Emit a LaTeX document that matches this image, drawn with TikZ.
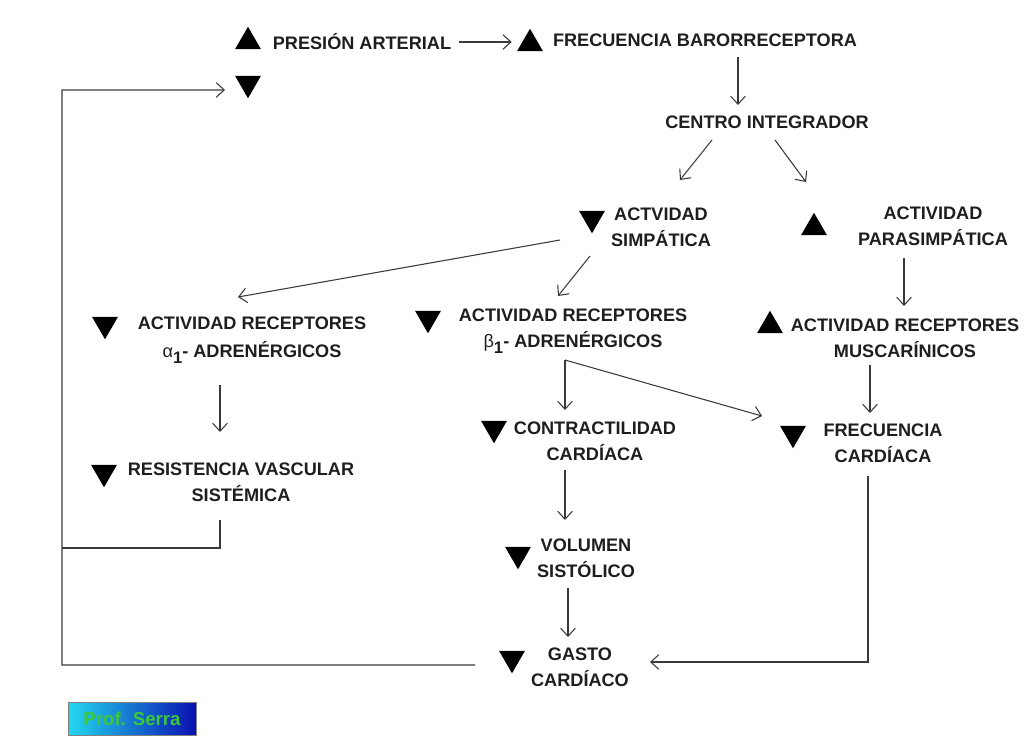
\documentclass[tikz,border=0pt]{standalone}
\usepackage{fontspec}
\setmainfont{Liberation Sans}
\usetikzlibrary{shapes.geometric,arrows.meta}

\definecolor{txtgray}{HTML}{1E1E1E}
\definecolor{linegray}{HTML}{3A3A3A}
\definecolor{serracyan}{HTML}{22D8F0}
\definecolor{serrablue}{HTML}{0A10B0}
\definecolor{serragreen}{HTML}{3CC83C}

\newcommand{\lowone}{\raisebox{-0.3em}{\fontsize{12.5}{12.5}\selectfont 1}}

\tikzset{
  lbl/.style={font=\bfseries\fontsize{13.6}{19.5}\selectfont, text=txtgray, align=center, inner sep=0pt},
  upt/.style={regular polygon, regular polygon sides=3, fill=black, minimum size=22.5pt, inner sep=0pt, yshift=-2.8pt},
  dnt/.style={upt, shape border rotate=180, yshift=5.6pt},
  conn/.style={draw=linegray, line width=0.8pt},
  serra/.style={draw=gray, line width=0.6pt, left color=serracyan, right color=serrablue,
    minimum width=96pt, minimum height=24.75pt, text=serragreen, font=\bfseries\fontsize{14}{16}\selectfont},
  >={Straight Barb[length=6pt,width=11pt]}
}

\begin{document}
\begin{tikzpicture}[x=0.75pt,y=-0.75pt]

  \useasboundingbox (0,0) rectangle (1024,751);

  % Top row
  \node[upt] (pa-t) at (248,38) {};
  \node[lbl] (pa) at (362,42) {PRESIÓN ARTERIAL};
  \node[upt] (fb-t) at (530,40) {};
  \node[lbl] (fb) at (705,40) {FRECUENCIA BARORRECEPTORA};
  \node[dnt] (pd-t) at (248,87) {};

  % Integrator
  \node[lbl] (ci) at (767,122) {CENTRO INTEGRADOR};

  % Autonomic activity
  \node[dnt] (sim-t) at (592,222) {};
  \node[lbl] (sim) at (661,227) {ACTVIDAD\\SIMPÁTICA};
  \node[upt] (para-t) at (814,224) {};
  \node[lbl] (para) at (933,226) {ACTIVIDAD\\PARASIMPÁTICA};

  % Receptors
  \node[dnt] (alpha-t) at (105,328) {};
  \node[lbl] (alpha) at (252,340) {ACTIVIDAD RECEPTORES\\[2pt]{\mdseries α}\lowone- ADRENÉRGICOS};
  \node[dnt] (beta-t) at (428,322) {};
  \node[lbl] (beta) at (573,331) {ACTIVIDAD RECEPTORES\\{\mdseries β}\lowone- ADRENÉRGICOS};
  \node[upt] (musc-t) at (770,322) {};
  \node[lbl] (musc) at (905,338) {ACTIVIDAD RECEPTORES\\MUSCARÍNICOS};

  % Effects
  \node[dnt] (rvs-t) at (104,476) {};
  \node[lbl] (rvs) at (241,482) {RESISTENCIA VASCULAR\\SISTÉMICA};
  \node[dnt] (con-t) at (494,432) {};
  \node[lbl] (con) at (595,441) {CONTRACTILIDAD\\CARDÍACA};
  \node[dnt] (fc-t) at (793,437) {};
  \node[lbl] (fc) at (883,443) {FRECUENCIA\\CARDÍACA};
  \node[dnt] (vol-t) at (518,558) {};
  \node[lbl] (vol) at (586,558) {VOLUMEN\\SISTÓLICO};
  \node[dnt] (gc-t) at (512,662) {};
  \node[lbl] (gc) at (580,667) {GASTO\\CARDÍACO};

  % Signature
  \node[serra] (serra) at (132,718.5) {Prof. Serra};

  % Feedback corner
  \coordinate (loopC) at (62,90);

  % Arrows
  \draw[conn,->,shorten <=6pt,shorten >=7pt] (pa.east) -- (pa.east -| fb-t.west);
  \draw[conn,->] ([shift={(33,17)}]fb.center) -- ([shift={(-29,-17)}]ci.center);
  \draw[conn,->] ([shift={(-55,18)}]ci.center) -- ([shift={(19,-47)}]sim.center);
  \draw[conn,->] ([shift={(8,18)}]ci.center) -- ([shift={(-127,-44)}]para.center);
  \draw[conn,->] ([shift={(-101,13)}]sim.center) -- ([shift={(-14,-43)}]alpha.center);
  \draw[conn,->] ([shift={(-71,29)}]sim.center) -- ([shift={(-15,-35)}]beta.center);
  \draw[conn,->] ([shift={(-29,32)}]para.center) -- ([shift={(-1,-32)}]musc.center);
  \draw[conn,->] ([shift={(-32,45)}]alpha.center) -- ([shift={(-21,-50)}]rvs.center);

  % Beta branch
  \coordinate (split) at ([shift={(-8,29)}]beta.center);
  \draw[conn,->] (split) -- ([shift={(-30,-31)}]con.center);
  \draw[conn,->] (split) -- ([shift={(-121,-27)}]fc.center);

  \draw[conn,->] ([shift={(-35,27)}]musc.center) -- ([shift={(-13,-30)}]fc.center);
  \draw[conn,->] ([shift={(-30,29)}]con.center) -- ([shift={(-21,-38)}]vol.center);
  \draw[conn,->] ([shift={(-18,30)}]vol.center) -- ([shift={(-12,-30)}]gc.center);
  \draw[conn,->] ([shift={(-15,33)}]fc.center) |- ([shift={(70,-5)}]gc.center);

  % Feedback loop
  \draw[conn] ([shift={(-21,38)}]rvs.center) |- (loopC |- 0,548);
  \draw[conn,->] ([shift={(-105,-2)}]gc.center) -| (loopC) -- ([shift={(-23,6.7)}]pd-t.center);

\end{tikzpicture}
\end{document}
